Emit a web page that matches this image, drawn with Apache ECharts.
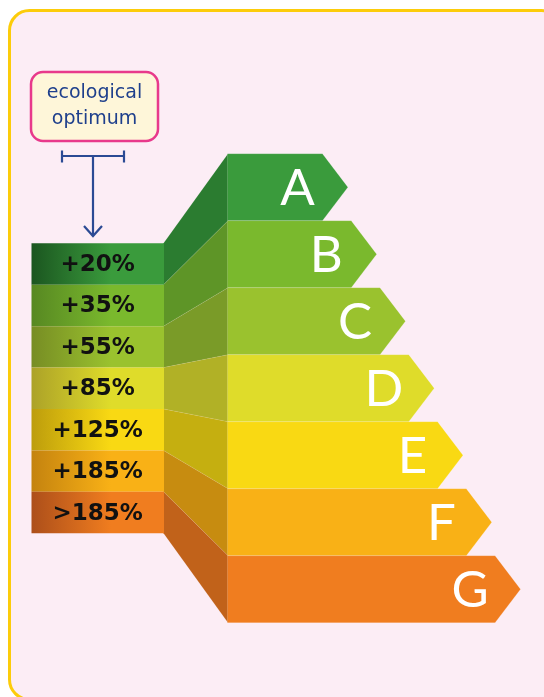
<!DOCTYPE html>
<html>
<head>
<meta charset="utf-8">
<script src="https://cdn.jsdelivr.net/npm/echarts@6/dist/echarts.min.js"></script>
<style>
  html, body { margin: 0; padding: 0; background: #ffffff; }
  #main { width: 544px; height: 697px; }
</style>
</head>
<body>
<div id="main"></div>
<script>
// energy classes, right-hand arrows
var grades = ['A', 'B', 'C', 'D', 'E', 'F', 'G'];
// consumption compared with the ecological optimum, left column
var percentLabels = ['+20%', '+35%', '+55%', '+85%', '+125%', '+185%', '>185%'];
// arrow length per class (one unit = one step of the staircase)
var barLength = [3.3, 4.3, 5.3, 6.3, 7.3, 8.3, 9.3];

var gradeColors = ['#3a9b3c', '#7ab92d', '#9ac22e', '#dfdc2a', '#f9d913', '#f9b116', '#f07d1f'];
var sideColors = ['#2b7c30', '#5e9527', '#7a9b28', '#b1b126', '#c5af10', '#c78c10', '#c1621a'];
var darkColors = ['#1b5620', '#578822', '#778d24', '#aca228', '#bd9d0c', '#c4830f', '#ad4f1a'];

var myChart = echarts.init(document.getElementById('main'));

var option = {
    animation: false,
    backgroundColor: '#ffffff',
    grid: [
        { left: 227.5, top: 153.7, width: 319, height: 469, show: false },
        { left: 31.5, top: 243.3, width: 132.5, height: 290, show: false }
    ],
    xAxis: [
        { type: 'value', gridIndex: 0, min: 0, max: 11, show: false },
        { type: 'value', gridIndex: 1, min: 0, max: 1, show: false }
    ],
    yAxis: [
        { type: 'category', gridIndex: 0, data: grades, inverse: true, show: false },
        { type: 'category', gridIndex: 1, data: percentLabels, inverse: true, show: false }
    ],
    graphic: [
        // card
        { type: 'rect', z: 0, shape: { x: 9.5, y: 10.5, width: 552, height: 689, r: 20 },
          style: { fill: '#fcedf5', stroke: '#fccc0a', lineWidth: 3 } },
        // note box
        { type: 'rect', z: 1, shape: { x: 31, y: 72, width: 127, height: 69, r: 12 },
          style: { fill: '#fef6d9', stroke: '#e8398b', lineWidth: 2.5 } },
        { type: 'text', z: 2, style: { text: 'ecological', x: 94.5, y: 93, align: 'center', verticalAlign: 'middle',
          font: '19px "DejaVu Sans"', fill: '#1e3f8c' } },
        { type: 'text', z: 2, style: { text: 'optimum', x: 94.5, y: 119, align: 'center', verticalAlign: 'middle',
          font: '19px "DejaVu Sans"', fill: '#1e3f8c' } },
        // bracket and arrow
        { type: 'polyline', z: 2, shape: { points: [[62, 156], [124, 156]] }, style: { stroke: '#2b4a94', lineWidth: 2.2 } },
        { type: 'polyline', z: 2, shape: { points: [[62, 150.5], [62, 162.5]] }, style: { stroke: '#2b4a94', lineWidth: 2.2 } },
        { type: 'polyline', z: 2, shape: { points: [[124, 150.5], [124, 162.5]] }, style: { stroke: '#2b4a94', lineWidth: 2.2 } },
        { type: 'polyline', z: 2, shape: { points: [[93, 156], [93, 236]] }, style: { stroke: '#2b4a94', lineWidth: 2.2 } },
        { type: 'polyline', z: 2, shape: { points: [[84, 226], [93, 236], [102, 226]] }, style: { stroke: '#2b4a94', lineWidth: 2.2, fill: null } }
    ],
    series: [
        {
            type: 'custom',
            xAxisIndex: 0,
            yAxisIndex: 0,
            z: 3,
            data: barLength.map(function (v, i) { return [v, i]; }),
            renderItem: function (params, api) {
                var i = api.value(1);
                var p0 = api.coord([0, i]);
                var p1 = api.coord([api.value(0), i]);
                var h = api.size([0, 1])[1];
                var tip = h * 0.38;
                var top = p0[1] - h / 2, bot = p0[1] + h / 2;
                return {
                    type: 'group',
                    children: [
                        {
                            type: 'polygon',
                            shape: { points: [[p0[0], top], [p1[0], top], [p1[0] + tip, p0[1]], [p1[0], bot], [p0[0], bot]] },
                            style: { fill: gradeColors[i], stroke: 'rgba(255,255,255,0.2)', lineWidth: 0.8 }
                        },
                        {
                            type: 'text',
                            style: {
                                text: grades[i], x: p1[0] - 25, y: p0[1] + 1,
                                align: 'center', verticalAlign: 'middle',
                                font: '400 51px Lato', fill: '#ffffff'
                            }
                        }
                    ]
                };
            }
        },
        {
            type: 'custom',
            xAxisIndex: 1,
            yAxisIndex: 1,
            z: 3,
            data: percentLabels.map(function (v, i) { return [1, i]; }),
            renderItem: function (params, api) {
                var i = api.value(1);
                var p0 = api.coord([0, i]);
                var p1 = api.coord([api.value(0), i]);
                var h = api.size([0, 1])[1];
                return {
                    type: 'group',
                    children: [
                        {
                            type: 'rect',
                            shape: { x: p0[0], y: p0[1] - h / 2, width: p1[0] - p0[0], height: h },
                            style: {
                                fill: {
                                    type: 'linear', x: 0, y: 0, x2: 1, y2: 0,
                                    colorStops: [
                                        { offset: 0, color: darkColors[i] },
                                        { offset: 0.6, color: gradeColors[i] },
                                        { offset: 1, color: gradeColors[i] }
                                    ]
                                }
                            }
                        },
                        {
                            type: 'text',
                            style: {
                                text: percentLabels[i], x: (p0[0] + p1[0]) / 2, y: p0[1] + 1,
                                align: 'center', verticalAlign: 'middle',
                                font: 'bold 23px "DejaVu Sans"', fill: '#111111'
                            }
                        }
                    ]
                };
            }
        }
    ]
};
myChart.setOption(option);

// side faces joining the left column to the arrows, placed from both grids
function drawSides() {
    var els = [];
    var l0 = myChart.convertToPixel({ gridIndex: 1 }, [1, 0]);
    var l1 = myChart.convertToPixel({ gridIndex: 1 }, [1, 1]);
    var r0 = myChart.convertToPixel({ gridIndex: 0 }, [0, 0]);
    var r1 = myChart.convertToPixel({ gridIndex: 0 }, [0, 1]);
    var hl = l1[1] - l0[1], hr = r1[1] - r0[1];
    for (var i = 0; i < grades.length; i++) {
        var l = myChart.convertToPixel({ gridIndex: 1 }, [1, i]);
        var r = myChart.convertToPixel({ gridIndex: 0 }, [0, i]);
        els.push({
            type: 'polygon', z: 1,
            shape: { points: [[l[0] - 0.5, l[1] - hl / 2], [r[0] + 0.5, r[1] - hr / 2], [r[0] + 0.5, r[1] + hr / 2], [l[0] - 0.5, l[1] + hl / 2]] },
            style: { fill: sideColors[i], stroke: 'rgba(255,255,255,0.12)', lineWidth: 0.6 }
        });
    }
    myChart.setOption({ graphic: option.graphic.concat(els) });
}
drawSides();
</script>
</body>
</html>
